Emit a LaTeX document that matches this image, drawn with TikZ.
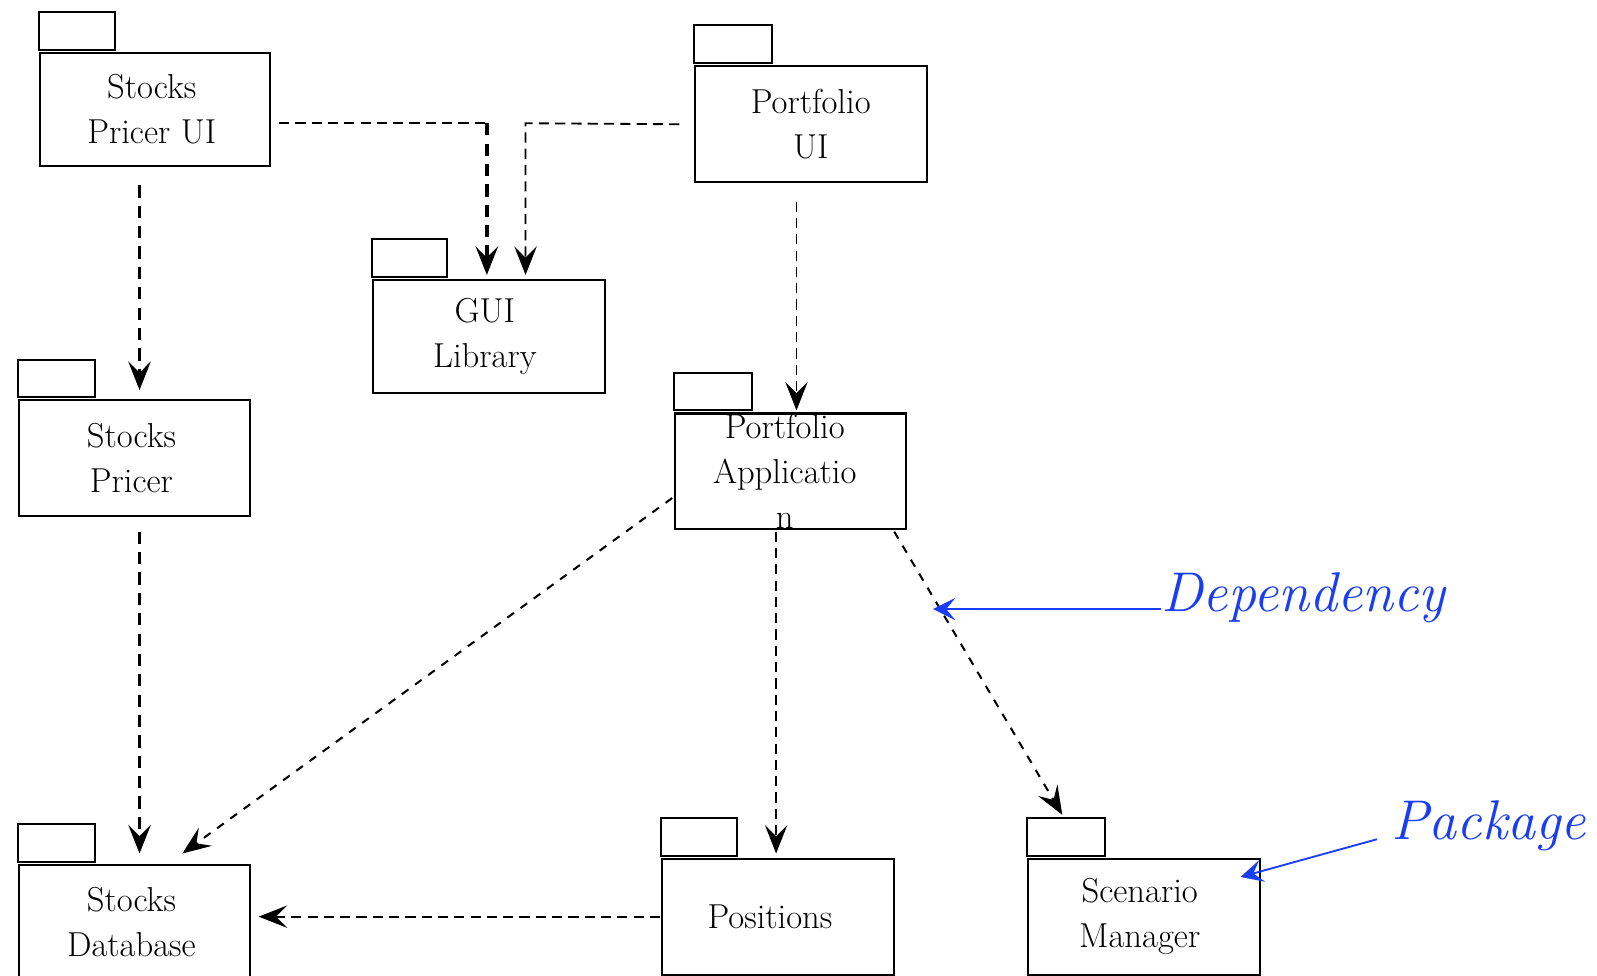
\documentclass[tikz,border=0pt]{standalone}
\usetikzlibrary{arrows.meta,calc}
\definecolor{noteblue}{RGB}{25,60,245}
\begin{document}
\begin{tikzpicture}[x=0.5pt,y=-0.5pt,
  pkg/.style 2 args={draw, line width=1pt, anchor=north west, inner sep=0pt,
    minimum width=#1, minimum height=#2},
  pkgtext/.style={align=center, font=\fontsize{17}{22}\selectfont},
  tip/.style={-{Stealth[length=14pt,width=11pt,inset=5.5pt]}},
  depthin/.style={line width=0.9pt, dash pattern=on 5pt off 3pt},
  depthick/.style={line width=1.8pt, dash pattern=on 6pt off 4pt},
  depmid/.style={line width=1.2pt, dash pattern=on 5pt off 3pt},
  depshort/.style={line width=1pt, dash pattern=on 4pt off 4pt},
  note/.style={anchor=base west, inner sep=0pt, text=noteblue,
    font=\fontsize{27.5}{30}\selectfont\itshape},
  noteline/.style={draw=noteblue, line width=0.9pt,
    -{Stealth[length=11pt,width=11pt,inset=4.5pt]}},
]
\useasboundingbox (0,0) rectangle (1568,958);

% package bodies
\node[pkg={113pt}{55.5pt}, label={[pkgtext, xshift=-1.5pt]center:Stocks\\Pricer UI}] (spui) at (38,51) {};
\node[pkg={114pt}{57pt}, label={[pkgtext]center:Portfolio\\UI}] (pui) at (681,64) {};
\node[pkg={114pt}{55.5pt}, label={[pkgtext, xshift=-2pt]center:GUI\\Library}] (gui) at (365,274) {};
\node[pkg={113pt}{57pt}, label={[pkgtext, xshift=-1.5pt]center:Stocks\\Pricer}] (sp) at (18,392) {};
\node[pkg={113.5pt}{56.5pt}, label={[pkgtext, xshift=-3pt]center:Portfolio\\Applicatio\\n}] (pa) at (662,405) {};
\node[pkg={113pt}{56pt}, label={[pkgtext, xshift=-1.5pt]center:Stocks\\Database}] (sdb) at (18,848) {};
\node[pkg={114pt}{57pt}, label={[pkgtext, xshift=-4pt]center:Positions}] (pos) at (649,842) {};
\node[pkg={114pt}{57pt}, label={[pkgtext, xshift=-2pt]center:Scenario\\Manager}] (sm) at (1008,842) {};

% package tabs
\foreach \p/\w in {spui/37.5pt, pui/38.5pt, gui/37pt, sp/37.5pt, pa/38pt, sdb/37.5pt, pos/37.5pt, sm/38.5pt}
  \draw[line width=1pt] ([yshift=1pt]\p.north west) rectangle ++(\w,18.5pt);

% dependencies
\coordinate (k1) at (478,121);
\coordinate (k2) at (516,121);
\draw[depmid] ($(spui.east |- k1)+(4pt,0)$) -- (k1);
\draw[depthick, tip, shorten >=2pt] (k1) -- (k1 |- gui.north);
\draw[depthin, tip, shorten >=2pt] ($(pui.west)+(-7pt,0)$) -- (k2) -- (k2 |- gui.north);

\draw[depthick, tip] ($(spui.south)+(-7.5pt,-9pt)$) -- ($(spui.south |- sp.north)+(-7.5pt,4.5pt)$);
\draw[depthick, tip] ($(sp.south)+(2.5pt,-7pt)$) -- ($(sp.south |- sdb.north)+(2.5pt,5pt)$);
\draw[depthin, tip] ($(pui.south)+(-7pt,-9pt)$) -- ($(pui.south |- pa.north)+(-7pt,1pt)$);
\draw[depshort, tip] ($(pa.west)+(-1pt,-13.25pt)$) -- ($(sdb.north)+(23.5pt,5pt)$);
\draw[depthin, tip] ($(pa.south)+(-7.25pt,-1pt)$) -- ($(pa.south |- pos.north)+(-7.25pt,2pt)$);
\draw[depshort, tip] ($(pa.south east)+(-6.5pt,-1pt)$) -- ($(sm.north west)+(17.5pt,21pt)$);
\draw[depthin, tip] ($(pos.west)+(-0.5pt,0)$) -- ($(pos.west -| sdb.east)+(4pt,0)$);

% annotations
\node[note] (dep) at (1140,600) {Dependency};
\coordinate (deptip) at (916,598);
\draw[noteline] ($(dep.base west)+(0,1pt)$) -- (deptip);
\node[note] (pkgnote) at (1366,824) {Package};
\coordinate (pkgtip) at (1218,861);
\draw[noteline] ($(pkgnote.base west)+(-7pt,0)$) -- (pkgtip);
\end{tikzpicture}
\end{document}
